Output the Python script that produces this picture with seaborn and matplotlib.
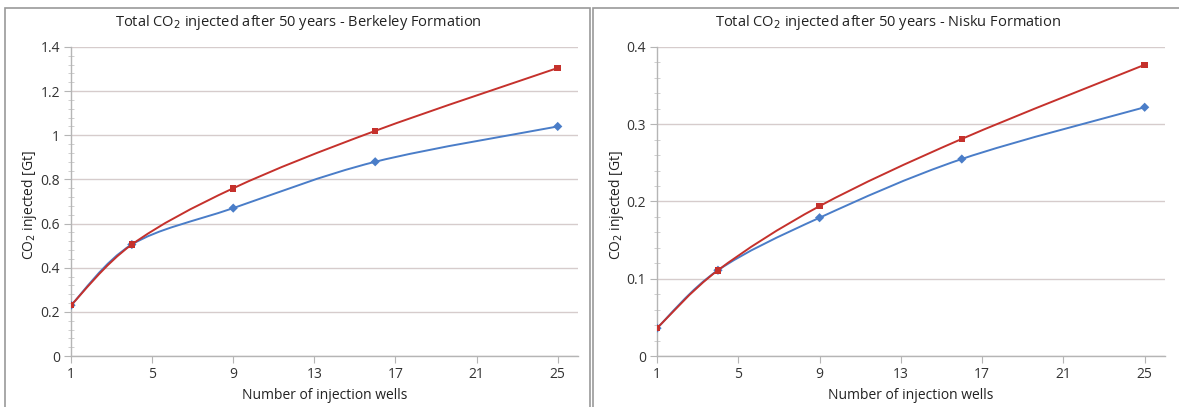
import numpy as np
import pandas as pd
import matplotlib
matplotlib.use("Agg")
import matplotlib.pyplot as plt
import seaborn as sns
from matplotlib.path import Path
from matplotlib.patches import PathPatch, Rectangle
from matplotlib.ticker import MultipleLocator, FuncFormatter

# ---------------- data ----------------
wells = [1, 4, 9, 16, 25]
berkeley_red = [0.23, 0.505, 0.76, 1.02, 1.305]
berkeley_blue = [0.23, 0.505, 0.67, 0.88, 1.04]
nisku_red = [0.036, 0.111, 0.194, 0.281, 0.377]
nisku_blue = [0.036, 0.111, 0.179, 0.255, 0.322]
x_ticks = [1, 5, 9, 13, 17, 21, 25]
titles = ["Total CO$_2$ injected after 50 years - Berkeley Formation",
          "Total CO$_2$ injected after 50 years - Nisku Formation"]
x_label = "Number of injection wells"
y_label = "CO$_2$ injected [Gt]"

RED = "#c5312c"
BLUE = "#4a7dc8"

sns.set_theme(style="white")
plt.rcParams['font.family'] = ['Liberation Sans Narrow', 'Open Sans', 'DejaVu Sans']
plt.rcParams['mathtext.fontset'] = 'custom'
plt.rcParams['mathtext.rm'] = 'Liberation Sans Narrow'
plt.rcParams['mathtext.it'] = 'Liberation Sans Narrow'

W, H = 1179, 407
fig = plt.figure(figsize=(W / 100, H / 100), dpi=100)
fig.patch.set_facecolor("white")

# panel frames
for (x0, x1) in [(5, 590), (593, 1185)]:
    fig.patches.append(Rectangle((x0 / W, -0.05), (x1 - x0) / W, 1 - 8 / H + 0.05,
                                 transform=fig.transFigure, fill=False,
                                 edgecolor="#9a9a9a", linewidth=1.2))


def smooth_path(xs, ys):
    pts = list(zip(xs, ys))
    n = len(pts)
    verts = [pts[0]]
    codes = [Path.MOVETO]
    for i in range(n - 1):
        p0 = pts[i - 1] if i > 0 else pts[i]
        p1 = pts[i]
        p2 = pts[i + 1]
        p3 = pts[i + 2] if i + 2 < n else pts[i + 1]
        c1 = (p1[0] + (p2[0] - p0[0]) / 6, p1[1] + (p2[1] - p0[1]) / 6)
        c2 = (p2[0] - (p3[0] - p1[0]) / 6, p2[1] - (p3[1] - p1[1]) / 6)
        verts += [c1, c2, p2]
        codes += [Path.CURVE4] * 3
    return Path(verts, codes)


panels = [
    dict(red=berkeley_red, blue=berkeley_blue, ymax=1.4, major=0.2, minor=0.04,
         left=71, right=578, title_cx=298),
    dict(red=nisku_red, blue=nisku_blue, ymax=0.4, major=0.1, minor=0.02,
         left=657, right=1165, title_cx=888),
]

top_px, bot_px = 47, 356
for k, p in enumerate(panels):
    ax = fig.add_axes([p["left"] / W, 1 - bot_px / H, (p["right"] - p["left"]) / W,
                       (bot_px - top_px) / H])
    df = pd.DataFrame({
        "wells": wells * 2,
        "value": p["blue"] + p["red"],
        "series": ["blue"] * len(wells) + ["red"] * len(wells),
    })
    for s, col in [("blue", BLUE), ("red", RED)]:
        sub = df[df.series == s]
        ax.add_patch(PathPatch(smooth_path(sub.wells.tolist(), sub.value.tolist()),
                               fill=False, edgecolor=col, linewidth=1.4, zorder=3))
    sns.scatterplot(data=df, x="wells", y="value", hue="series", style="series",
                    palette={"blue": BLUE, "red": RED},
                    markers={"blue": "D", "red": "s"},
                    s=22, linewidth=0, legend=False, ax=ax, zorder=4)
    ax.set_xlim(1, 26)
    ax.set_ylim(0, p["ymax"])
    ax.set_xticks(x_ticks)
    ax.yaxis.set_major_locator(MultipleLocator(p["major"]))
    ax.yaxis.set_minor_locator(MultipleLocator(p["minor"]))
    ax.yaxis.set_major_formatter(FuncFormatter(lambda v, pos: f"{v:g}"))
    ax.grid(axis="y", which="major", color="#d6cccc", linewidth=1.0)
    ax.set_axisbelow(True)
    for side in ["top", "right"]:
        ax.spines[side].set_visible(False)
    for side in ["left", "bottom"]:
        ax.spines[side].set_color("#b5b5b5")
        ax.spines[side].set_linewidth(1.0)
    ax.tick_params(axis="both", which="major", direction="out", length=5, width=0.8,
                   color="#b5b5b5", labelsize=10, labelcolor="#333333", pad=3,
                   left=True, bottom=True)
    ax.tick_params(axis="y", which="minor", direction="inout", length=4, width=0.6,
                   color="#c8c8c8", left=True)
    ax.set_xlabel(x_label, fontsize=10, color="#222222", labelpad=4)
    ax.set_ylabel("")
    fig.text(p["title_cx"] / W, 1 - 22 / H, titles[k], ha="center", va="center",
             fontsize=10.5, color="#222222")
    fig.text((p["left"] - 41) / W, 1 - 205 / H, y_label, rotation=90,
             ha="center", va="center", fontsize=10, color="#222222")

fig.savefig("out.png", dpi=100, facecolor="white")
